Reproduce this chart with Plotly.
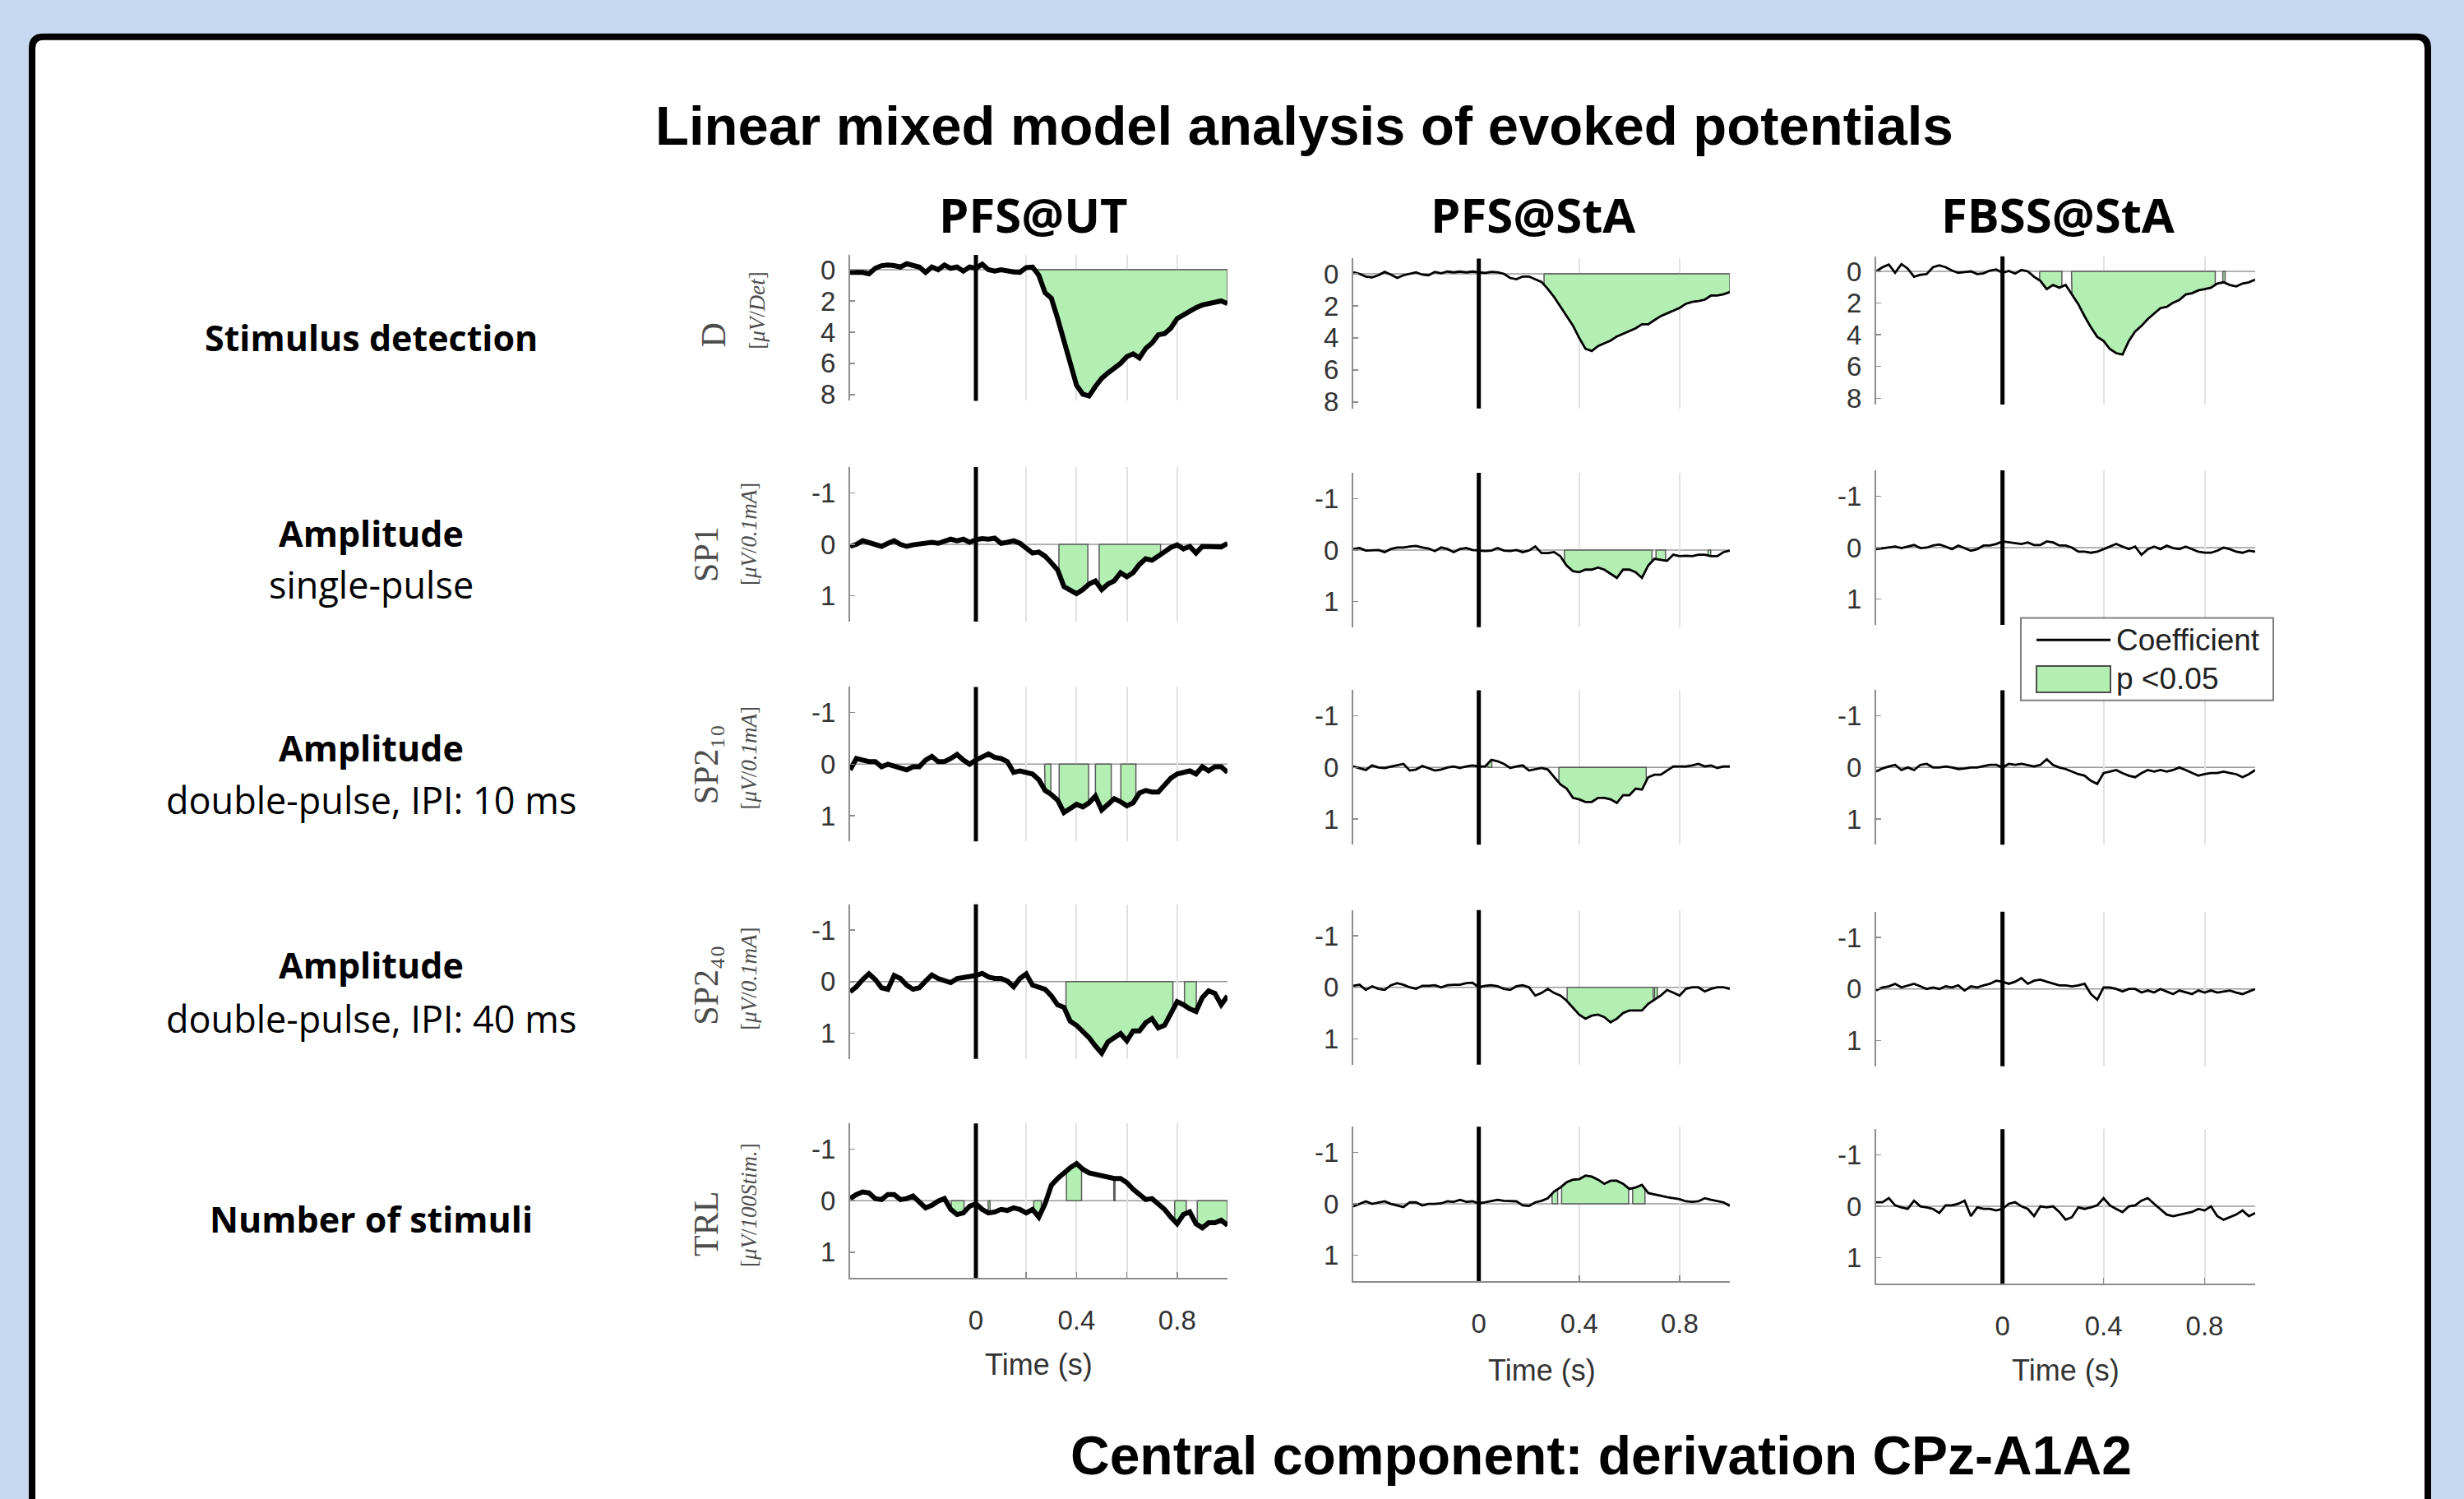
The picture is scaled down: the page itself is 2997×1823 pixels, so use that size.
import numpy as np
import plotly.graph_objects as go

W, H = 2997, 1823

# ---------------- data ----------------
t = np.round(np.arange(-0.5, 1.0001, 0.025), 3)   # time (s)

columns = ["PFS@UT", "PFS@StA", "FBSS@StA"]
row_main = ["Stimulus detection", "Amplitude", "Amplitude", "Amplitude", "Number of stimuli"]
row_sub = ["", "single-pulse", "double-pulse, IPI: 10 ms", "double-pulse, IPI: 40 ms", ""]
ylab_main = ["D", "SP1", "SP2₁₀", "SP2₄₀", "TRL"]
ylab_unit = ["[<i>μV</i>/<i>Det</i>]", "[<i>μV</i>/<i>0.1mA</i>]", "[<i>μV</i>/<i>0.1mA</i>]",
             "[<i>μV</i>/<i>0.1mA</i>]", "[<i>μV</i>/<i>100Stim.</i>]"]

# coefficients, column PFS@UT
D_pfsut = [0.17, 0.14, 0.17, 0.26, -0.09, -0.26, -0.3, -0.26, -0.17, -0.38, -0.26, -0.17, 0.17, -0.17, 0.0,
           -0.3, -0.09, -0.17, 0.09, -0.17, -0.09, -0.35, 0.0, 0.09, 0.0, 0.09, 0.14, 0.17, -0.14, -0.17,
           0.35, 1.48, 1.83, 3.13, 4.6, 6.1, 7.4, 7.97, 8.09, 7.48, 6.96, 6.61, 6.35, 6.0, 5.57, 5.39, 5.65,
           5.04, 4.7, 4.17, 4.09, 3.74, 3.13, 2.87, 2.7, 2.43, 2.26, 2.17, 2.09, 2.0, 2.17]
SP1_pfsut = [0.04, 0, -0.07, -0.04, 0.01, 0.04, -0.02, -0.07, 0, 0.04, 0.01, 0, -0.02, -0.04, -0.02, -0.07,
             -0.1, -0.07, -0.1, -0.04, -0.09, -0.11, -0.1, -0.12, -0.02, -0.04, -0.07, -0.02, 0.09, 0.17,
             0.15, 0.23, 0.36, 0.5, 0.82, 0.88, 0.96, 0.88, 0.77, 0.71, 0.88, 0.77, 0.71, 0.55, 0.63, 0.55,
             0.39, 0.28, 0.31, 0.23, 0.15, 0.06, 0.01, 0.09, 0.04, 0.17, 0.04, 0.04, 0.06, 0.05, -0.02]
SP210_pfsut = [0.11, -0.11, -0.08, -0.05, -0.05, 0.05, 0, 0.03, 0.08, 0.11, 0.05, 0.05, -0.08, -0.15, -0.05,
               -0.05, -0.11, -0.19, -0.08, 0, -0.08, -0.15, -0.2, -0.13, -0.11, -0.05, 0.16, 0.13, 0.16,
               0.19, 0.3, 0.51, 0.59, 0.7, 0.94, 0.86, 0.78, 0.83, 0.75, 0.62, 0.89, 0.78, 0.67, 0.73, 0.81,
               0.75, 0.56, 0.51, 0.54, 0.54, 0.4, 0.27, 0.19, 0.16, 0.13, 0.19, 0.05, 0.13, 0.05, 0.05, 0.16]
SP240_pfsut = [0.2, 0.1, -0.04, -0.15, -0.04, 0.12, 0.15, -0.12, -0.06, 0.07, 0.15, 0.12, -0.01, -0.13, -0.06,
               -0.01, 0.02, -0.06, -0.08, -0.09, -0.12, -0.16, -0.09, -0.06, -0.06, -0.01, 0.1, -0.06, -0.15,
               0.07, 0.1, 0.15, 0.28, 0.45, 0.5, 0.77, 0.85, 0.96, 1.09, 1.25, 1.39, 1.17, 1.09, 1.01, 1.15,
               0.96, 0.96, 0.8, 0.72, 0.9, 0.85, 0.61, 0.39, 0.45, 0.53, 0.58, 0.31, 0.18, 0.23, 0.45, 0.28]
TRL_pfsut = [-0.04, -0.12, -0.17, -0.15, -0.04, -0.02, -0.12, -0.12, -0.02, -0.04, -0.09, 0.04, 0.14, 0.09,
             0.01, -0.04, 0.17, 0.27, 0.24, 0.11, 0.06, 0.17, 0.24, 0.22, 0.17, 0.19, 0.14, 0.17, 0.24, 0.17,
             0.32, 0.06, -0.3, -0.43, -0.54, -0.64, -0.72, -0.61, -0.54, -0.51, -0.48, -0.46, -0.43, -0.43,
             -0.35, -0.22, -0.12, -0.02, -0.04, 0.06, 0.17, 0.32, 0.45, 0.27, 0.22, 0.45, 0.53, 0.43, 0.43,
             0.38, 0.48]

# coefficients, column PFS@StA
D_pfssta = [-0.09, 0, 0.17, 0.22, 0.09, -0.12, 0.05, 0.26, 0.09, 0, -0.09, 0.05, 0.09, -0.12, -0.03, -0.14,
            -0.09, -0.14, -0.09, -0.14, -0.09, -0.05, -0.12, -0.09, 0, 0.26, 0.34, 0.17, 0.17, 0.34, 0.51,
            0.94, 1.45, 2.04, 2.64, 3.23, 4.0, 4.68, 4.82, 4.51, 4.34, 4.17, 3.91, 3.74, 3.57, 3.4, 3.15,
            3.15, 2.89, 2.64, 2.47, 2.3, 2.13, 1.87, 1.75, 1.7, 1.62, 1.36, 1.36, 1.28, 1.14]
SP1_pfssta = [-0.02, -0.04, 0.01, 0.01, 0, 0.04, -0.02, -0.05, -0.05, -0.07, -0.08, -0.05, -0.03, 0.02, -0.05,
              -0.02, 0.04, -0.02, -0.04, 0, 0.01, 0.02, 0.01, -0.04, 0.01, 0.02, 0, 0.04, 0.01, -0.07, 0.06,
              0.06, 0.04, 0.12, 0.3, 0.41, 0.43, 0.38, 0.38, 0.34, 0.38, 0.46, 0.54, 0.38, 0.38, 0.43, 0.54,
              0.3, 0.17, 0.19, 0.21, 0.09, 0.12, 0.11, 0.12, 0.09, 0.09, 0.12, 0.12, 0.04, 0.01]
SP210_pfssta = [-0.02, 0.01, 0.05, -0.04, 0, 0.01, -0.02, -0.04, -0.07, 0.06, 0.04, -0.03, 0.01, 0.06, 0.04,
                0, -0.02, 0.01, -0.02, -0.04, -0.02, -0.02, -0.15, -0.12, -0.07, 0.01, -0.02, -0.04, 0.06,
                0.04, 0.01, 0.04, 0.19, 0.33, 0.41, 0.59, 0.62, 0.67, 0.67, 0.59, 0.59, 0.62, 0.69, 0.54, 0.54,
                0.41, 0.43, 0.19, 0.14, 0.14, 0.06, -0.02, -0.02, -0.02, -0.04, -0.07, -0.02, -0.04, 0.01,
                -0.02, -0.02]
SP240_pfssta = [-0.03, -0.05, 0.05, -0.02, 0.03, 0.05, -0.04, -0.08, -0.05, 0, 0.03, -0.03, -0.03, -0.04, 0,
                -0.04, -0.05, -0.05, -0.08, -0.09, 0, -0.03, -0.04, -0.02, 0.03, 0.05, -0.02, -0.04, 0, 0.16,
                0.11, 0.03, 0.11, 0.16, 0.26, 0.39, 0.53, 0.61, 0.55, 0.53, 0.58, 0.68, 0.61, 0.5, 0.45, 0.45,
                0.45, 0.32, 0.24, 0.16, 0.05, 0.11, 0.16, 0.03, 0, 0, 0.08, 0.03, 0, 0, 0.03]
TRL_pfssta = [0.05, 0, -0.05, 0, -0.03, -0.05, 0, 0.03, 0.06, -0.03, -0.03, 0.03, 0, 0, -0.01, -0.05, -0.04,
              -0.08, -0.04, -0.05, -0.01, -0.03, -0.05, -0.08, -0.06, -0.05, -0.05, 0.03, 0.04, -0.03, -0.06,
              -0.11, -0.24, -0.32, -0.42, -0.47, -0.48, -0.55, -0.53, -0.47, -0.39, -0.45, -0.45, -0.39, -0.29,
              -0.32, -0.37, -0.21, -0.18, -0.15, -0.13, -0.11, -0.09, -0.05, -0.04, -0.05, -0.11, -0.08,
              -0.05, -0.03, 0.04]

# coefficients, column FBSS@StA
D_fbss = [0, -0.26, -0.43, 0.09, -0.46, -0.17, 0.34, 0.22, 0.17, -0.26, -0.38, -0.26, -0.05, 0.09, 0.05, 0,
          0.17, 0.12, -0.05, -0.12, 0.09, -0.03, 0.14, -0.09, 0, 0.34, 0.6, 1.12, 0.86, 1.03, 0.86, 1.46, 2.07,
          2.84, 3.53, 4.13, 4.39, 4.9, 5.16, 5.25, 4.39, 3.79, 3.44, 3.01, 2.67, 2.32, 2.24, 1.98, 1.81, 1.46,
          1.38, 1.2, 1.12, 1.03, 0.77, 0.69, 0.86, 0.95, 0.77, 0.69, 0.52]
SP1_fbss = [0.03, 0.01, 0, -0.02, 0.01, -0.02, -0.05, 0.01, 0, -0.04, -0.06, -0.02, 0.03, -0.04, 0.01, 0.06,
            0.03, -0.04, -0.04, -0.07, -0.12, -0.1, -0.09, -0.07, -0.1, -0.05, -0.05, -0.12, -0.1, -0.04,
            -0.04, 0, 0.08, 0.08, 0.1, 0.08, 0.03, -0.02, -0.07, -0.02, 0.03, -0.02, 0.14, 0.03, -0.02, 0.03,
            -0.04, 0.01, 0.03, -0.02, 0.03, 0.08, 0.1, 0.1, 0.06, 0, 0.03, 0.08, 0.1, 0.06, 0.08]
SP210_fbss = [0.08, 0.02, -0.02, -0.05, 0.05, 0, 0.05, -0.05, -0.07, 0, 0, -0.02, 0, 0.03, 0.02, 0, 0, -0.02,
              -0.05, -0.05, 0, -0.07, -0.05, -0.07, -0.05, -0.02, -0.05, -0.16, -0.05, 0, 0.03, 0.08, 0.13,
              0.16, 0.26, 0.32, 0.11, 0.08, 0.05, 0.11, 0.16, 0.19, 0.11, 0.05, 0.08, 0.05, 0.08, 0.05, 0,
              0.05, 0.11, 0.16, 0.13, 0.11, 0.11, 0.08, 0.11, 0.13, 0.19, 0.13, 0.05]
SP240_fbss = [0.03, -0.03, -0.05, -0.1, -0.03, -0.07, -0.1, -0.05, 0, -0.03, 0, -0.05, -0.03, -0.07, 0.03,
              -0.05, -0.03, -0.07, -0.1, -0.16, -0.14, -0.1, -0.14, -0.21, -0.1, -0.16, -0.18, -0.14, -0.1,
              -0.07, -0.07, -0.05, -0.07, -0.1, 0.1, 0.21, -0.03, -0.03, 0, 0.05, 0, 0, 0.07, 0.03, 0.07, 0,
              0.05, 0.1, 0.03, 0.07, 0.1, 0.03, 0.07, 0.03, 0.07, 0.05, 0.03, 0.07, 0.1, 0.05, 0]
TRL_fbss = [-0.08, -0.08, -0.16, -0.02, 0.02, 0.05, -0.11, 0, 0.02, 0.05, 0.13, -0.02, -0.02, -0.05, -0.11,
            0.19, 0.02, 0.05, 0.05, 0.08, 0.05, -0.05, -0.08, 0, 0.05, 0.19, 0, 0.02, 0, 0.11, 0.26, 0.21,
            0.02, 0.05, 0.02, -0.02, -0.16, -0.02, 0.05, 0.11, 0, -0.02, -0.11, -0.16, -0.05, 0.05, 0.16,
            0.19, 0.16, 0.13, 0.11, 0.05, 0.08, 0, 0.19, 0.26, 0.21, 0.16, 0.08, 0.19, 0.13]

# significant (p < 0.05) time windows (s)
sig_D_pfsut = [(0.24, 1.0)]
sig_SP1_pfsut = [(0.33, 0.445), (0.49, 0.734)]
sig_SP210_pfsut = [(0.273, 0.298), (0.331, 0.448), (0.475, 0.538), (0.576, 0.636)]
sig_SP240_pfsut = [(0.358, 0.783), (0.829, 0.876)]
sig_TRL_pfsut = [(-0.098, -0.047), (0.048, 0.056), (0.23, 0.26), (0.36, 0.42), (0.548, 0.553),
                 (0.79, 0.836), (0.88, 1.0)]
sig_D_pfssta = [(0.26, 1.0)]
sig_SP1_pfssta = [(0.341, 0.69), (0.706, 0.744), (0.913, 0.924)]
sig_SP210_pfssta = [(0.036, 0.052), (0.319, 0.667)]
sig_SP240_pfssta = [(0.352, 0.695), (0.70, 0.711)]
sig_TRL_pfssta = [(0.292, 0.314), (0.33, 0.597), (0.613, 0.662)]
sig_D_fbss = [(0.147, 0.235), (0.273, 0.842), (0.872, 0.881)]
sig_SP1_fbss, sig_SP210_fbss, sig_SP240_fbss, sig_TRL_fbss = [], [], [], []

coef = [[D_pfsut, D_pfssta, D_fbss],
        [SP1_pfsut, SP1_pfssta, SP1_fbss],
        [SP210_pfsut, SP210_pfssta, SP210_fbss],
        [SP240_pfsut, SP240_pfssta, SP240_fbss],
        [TRL_pfsut, TRL_pfssta, TRL_fbss]]
sig = [[sig_D_pfsut, sig_D_pfssta, sig_D_fbss],
       [sig_SP1_pfsut, sig_SP1_pfssta, sig_SP1_fbss],
       [sig_SP210_pfsut, sig_SP210_pfssta, sig_SP210_fbss],
       [sig_SP240_pfsut, sig_SP240_pfssta, sig_SP240_fbss],
       [sig_TRL_pfsut, sig_TRL_pfssta, sig_TRL_fbss]]

# ---------------- geometry (pixels) ----------------
col_x = [(1034, 1493), (1646, 2104), (2282, 2743)]
row1_zero = [330, 335, 332]
row1_unit = [19.1, 19.6, 19.4]
zeros = [[666, 935, 1201, 1469], [673, 939, 1208, 1473], [670, 939, 1210, 1476]]
unit = 63.0

SANS = "Liberation Sans, Arial, sans-serif"
OPEN = "Open Sans, sans-serif"
SERIF = "Liberation Serif, DejaVu Serif, serif"
GREEN = "#b3efb3"
AXC = "#8c8c8c"


def px(x):
    return x / W


def py(y):
    return 1 - y / H


fig = go.Figure()
layout = dict(width=W, height=H, autosize=False, margin=dict(l=0, r=0, t=0, b=0, pad=0),
              paper_bgcolor="#c6d9f0", plot_bgcolor="rgba(0,0,0,0)", showlegend=False)
shapes = []
annotations = []

for r in range(5):
    for c in range(3):
        k = r * 3 + c + 1
        xn = "x" if k == 1 else f"x{k}"
        yn = "y" if k == 1 else f"y{k}"
        x0, x1 = col_x[c]
        if r == 0:
            ytop = row1_zero[c] - 0.95 * row1_unit[c]
            ybot = row1_zero[c] + 8.4 * row1_unit[c]
            yrange = [8.4, -0.95]
            ytv, ytt = [0, 2, 4, 6, 8], ["0", "2", "4", "6", "8"]
        else:
            z = zeros[c][r - 1]
            ytop, ybot = z - 1.5 * unit, z + 1.5 * unit
            yrange = [1.5, -1.5]
            ytv, ytt = [-1, 0, 1], ["-1", "0", "1"]
        last = (r == 4)
        xaxis = dict(
            domain=[px(x0), px(x1)], range=[-0.5, 1.0], anchor=yn,
            tickmode="array", tickvals=[0, 0.4, 0.8], ticktext=["0", "0.4", "0.8"],
            showgrid=True, gridcolor="#e2e2e2", gridwidth=2, zeroline=False,
            showline=last, linecolor=AXC, linewidth=2,
            ticks="inside" if last else "", ticklen=7, tickcolor=AXC, tickwidth=1.5,
            showticklabels=last, ticklabelstandoff=21,
            tickfont=dict(family=SANS, size=33, color="#333"), fixedrange=True)
        if c == 0:
            xaxis["minor"] = dict(tickvals=[0.2, 0.6, 1.0], showgrid=True, gridcolor="#e2e2e2", gridwidth=2,
                                  ticks="inside" if last else "", ticklen=7, tickcolor=AXC, tickwidth=1.5)
        layout[f"xaxis{k}"] = xaxis
        layout[f"yaxis{k}"] = dict(
            domain=[py(ybot), py(ytop)], range=yrange, anchor=xn,
            tickmode="array", tickvals=ytv, ticktext=ytt,
            showgrid=False, zeroline=False, showline=True, linecolor=AXC, linewidth=2,
            ticks="inside", ticklen=6, tickcolor=AXC, tickwidth=1.5, ticklabelstandoff=9,
            tickfont=dict(family=SANS, size=33, color="#333"), fixedrange=True)

        v = np.array(coef[r][c], dtype=float)
        # significant areas
        for (a, b) in sig[r][c]:
            m = (t > a) & (t < b)
            xs = [a, a] + list(t[m]) + [b, b, a]
            ys = [0, float(np.interp(a, t, v))] + list(v[m]) + [float(np.interp(b, t, v)), 0, 0]
            fig.add_trace(go.Scatter(x=xs, y=ys, mode="lines", fill="toself", fillcolor=GREEN,
                                     line=dict(color="#5a5a5a", width=1.5), hoverinfo="skip",
                                     xaxis=xn, yaxis=yn))
        # coefficient curve
        fig.add_trace(go.Scatter(x=t, y=v, mode="lines",
                                 line=dict(color="black", width=6 if c == 0 else 2.8),
                                 xaxis=xn, yaxis=yn, name="Coefficient"))
        # zero baseline
        shapes.append(dict(type="line", xref=f"{xn} domain", yref=yn, x0=0, x1=1, y0=0, y1=0,
                           line=dict(color="#9a9a9a", width=1.5), layer="below"))
        # stimulus onset
        shapes.append(dict(type="line", xref=xn, yref=f"{yn} domain", x0=0, x1=0, y0=0, y1=1,
                           line=dict(color="black", width=5), layer="above"))

        if last:
            annotations.append(dict(text="Time (s)", x=px((x0 + x1) / 2),
                                    y=py(1670 if c == 0 else 1677), xref="paper", yref="paper",
                                    showarrow=False, xanchor="center", yanchor="middle",
                                    font=dict(family=SANS, size=36, color="#333")))


def ann(text, x, y, size, family, color="black", angle=0, xanchor="center"):
    annotations.append(dict(text=text, x=px(x), y=py(y), xref="paper", yref="paper", showarrow=False,
                            xanchor=xanchor, yanchor="middle", textangle=angle,
                            font=dict(size=size, family=family, color=color)))


# white framed panel with rounded top corners
x0b, x1b, y0b, y1b, rr = 39, 2953, 45, H + 30, 14
path = (f"M {px(x0b + rr)},{py(y0b)} L {px(x1b - rr)},{py(y0b)} "
        f"Q {px(x1b)},{py(y0b)} {px(x1b)},{py(y0b + rr)} L {px(x1b)},{py(y1b)} "
        f"L {px(x0b)},{py(y1b)} L {px(x0b)},{py(y0b + rr)} "
        f"Q {px(x0b)},{py(y0b)} {px(x0b + rr)},{py(y0b)} Z")
shapes.insert(0, dict(type="path", path=path, xref="paper", yref="paper", fillcolor="white",
                      line=dict(color="black", width=8), layer="below"))

# titles
ann("<b>Linear mixed model analysis of evoked potentials</b>", 1587, 153, 67, SANS)
ann("<b>Central component: derivation CPz-A1A2</b>", 1947, 1781, 66, SANS)
col_cx = [1257, 1865, 2503]
for c in range(3):
    ann(f"<b>{columns[c]}</b>", col_cx[c], 262, 58, OPEN)

# row labels
ann(f"<b>{row_main[0]}</b>", 451, 413, 43, OPEN)
main_y = [652, 915, 1181]
sub_y = [715, 978, 1246]
for i in range(3):
    ann(f"<b>{row_main[i + 1]}</b>", 451, main_y[i], 43, OPEN)
    ann(row_sub[i + 1], 451, sub_y[i], 45, OPEN)
ann(f"<b>{row_main[4]}</b>", 451, 1492, 43, OPEN)

# y-axis labels (rotated)
lab_x = [868, 859, 859, 859, 859]
unit_x = [921, 911, 911, 911, 911]
lab_y = [410, 678, 935, 1205, 1497]
unit_y = [380, 653, 927, 1197, 1474]
for r in range(5):
    ann(ylab_main[r], lab_x[r], lab_y[r], 42, SERIF, color="#4d4d4d", angle=-90)
    ann(ylab_unit[r], unit_x[r], unit_y[r], 27, SERIF, color="#4d4d4d", angle=-90)

# legend (drawn box)
shapes.append(dict(type="rect", xref="paper", yref="paper", x0=px(2458), x1=px(2765), y0=py(857), y1=py(756),
                   fillcolor="white", line=dict(color="#7f7f7f", width=2), layer="above"))
shapes.append(dict(type="line", xref="paper", yref="paper", x0=px(2477), x1=px(2567), y0=py(783), y1=py(783),
                   line=dict(color="black", width=3), layer="above"))
shapes.append(dict(type="rect", xref="paper", yref="paper", x0=px(2477), x1=px(2567), y0=py(847), y1=py(815),
                   fillcolor=GREEN, line=dict(color="#4d4d4d", width=2), layer="above"))
ann("Coefficient", 2572, 783, 37, SANS, color="#222", xanchor="left")
ann("p <0.05", 2572, 831, 37, SANS, color="#222", xanchor="left")

layout["shapes"] = shapes
layout["annotations"] = annotations
fig.update_layout(**layout)
fig.write_html("out.html", config={"displayModeBar": False, "staticPlot": True},
               post_script="document.body.style.margin='0px';")
